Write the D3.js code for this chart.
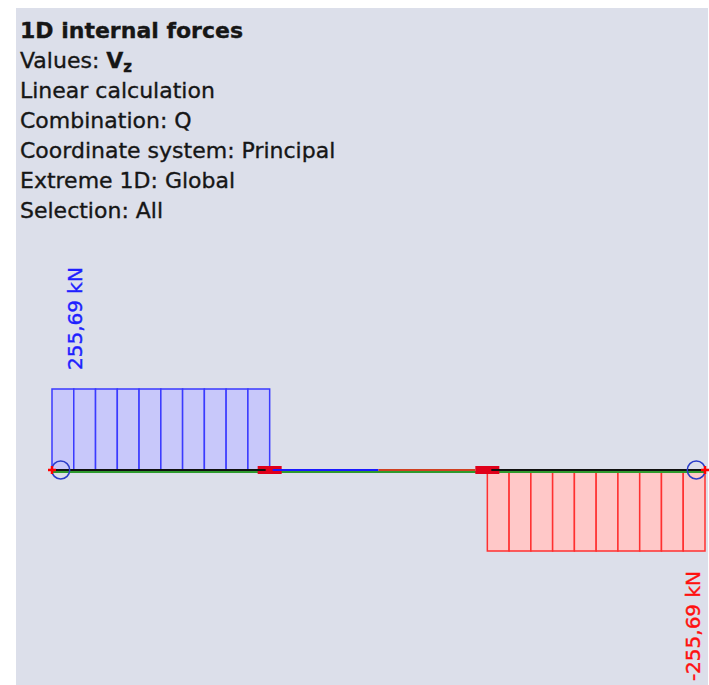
<!DOCTYPE html>
<html>
<head>
<meta charset="utf-8">
<script src="https://cdn.jsdelivr.net/npm/d3@7"></script>
<style>
  html, body { margin: 0; padding: 0; background: #ffffff; }
  svg { display: block; }
</style>
</head>
<body>
<div id="chart"></div>
<script>
// ---- data ----
const infoLines = [
  "Linear calculation",
  "Combination: Q",
  "Coordinate system: Principal",
  "Extreme 1D: Global",
  "Selection: All"
];
const titleText = "1D internal forces";
const valuesLabel = "Values: ";
const valuesSymbol = "V";
const valuesSubscript = "z";

// stations along the member [m]
const stations = [0.0, 0.2, 0.4, 0.6, 0.8, 1.0, 1.2, 1.4, 1.6, 1.8, 2.0,
                  2.2, 2.4, 2.6, 2.8, 3.0, 3.2, 3.4, 3.6, 3.8, 4.0,
                  4.2, 4.4, 4.6, 4.8, 5.0, 5.2, 5.4, 5.6, 5.8, 6.0];
// shear force Vz per segment [kN]
const vz = [255.69, 255.69, 255.69, 255.69, 255.69, 255.69, 255.69, 255.69, 255.69, 255.69,
            0, 0, 0, 0, 0, 0, 0, 0, 0, 0,
            -255.69, -255.69, -255.69, -255.69, -255.69, -255.69, -255.69, -255.69, -255.69, -255.69];
const signChangeAt = 3.0;
const supports = [0.08, 5.92];
const internalNodes = [2.0, 4.0];
const memberEnds = [0.0, 6.0];
const maxLabel = "255,69 kN";
const minLabel = "-255,69 kN";

// ---- drawing ----
const W = 709, H = 685;
const svg = d3.select("#chart").append("svg").attr("width", W).attr("height", H);

svg.append("rect").attr("x", 16).attr("y", 8).attr("width", 692).attr("height", H - 8)
  .attr("fill", "#dcdfea");

const x = d3.scaleLinear().domain([0, 6]).range([52, 705]);
const vmax = d3.max(vz, d => Math.abs(d));
const y = d3.scaleLinear().domain([-vmax, vmax]).range([551, 389]);
const y0 = y(0);

const font = "'DejaVu Sans', Verdana, sans-serif";
const txt = svg.append("g").attr("font-family", font).attr("fill", "#161616")
  .attr("stroke", "#161616").attr("stroke-width", 0.35);
txt.append("text").attr("x", 20).attr("y", 38).attr("font-size", 22).attr("font-weight", "bold").text(titleText);
const vt = txt.append("text").attr("x", 20).attr("y", 68).attr("font-size", 22);
vt.append("tspan").text(valuesLabel);
vt.append("tspan").attr("font-weight", "bold").text(valuesSymbol);
vt.append("tspan").attr("font-weight", "bold").attr("font-size", 15).attr("dy", 4).text(valuesSubscript);
txt.selectAll("text.info").data(infoLines).enter().append("text")
  .attr("class", "info")
  .attr("x", 20).attr("y", (d, i) => 98 + i * 30)
  .attr("font-size", 22).text(d => d);

// segments
const segs = vz.map((v, i) => ({ x0: stations[i], x1: stations[i + 1], v }));
const pos = segs.filter(s => s.v > 0);
const neg = segs.filter(s => s.v < 0);

const gp = svg.append("g");
gp.selectAll("rect").data(pos).enter().append("rect")
  .attr("x", d => x(d.x0)).attr("width", d => x(d.x1) - x(d.x0))
  .attr("y", d => y(d.v)).attr("height", d => y0 - y(d.v))
  .attr("fill", "#c8c8fa").attr("stroke", "#3a3aff").attr("stroke-width", 1.5);

const gn = svg.append("g");
gn.selectAll("rect").data(neg).enter().append("rect")
  .attr("x", d => x(d.x0)).attr("width", d => x(d.x1) - x(d.x0))
  .attr("y", y0).attr("height", d => y(d.v) - y0)
  .attr("fill", "#ffc8c8").attr("stroke", "#ff3030").attr("stroke-width", 1.5);

// member axis (green, underneath)
svg.append("line").attr("x1", x(0)).attr("x2", x(6)).attr("y1", y0 + 2).attr("y2", y0 + 2)
  .attr("stroke", "#2e9a2e").attr("stroke-width", 2);

// node markers (red rectangles)
svg.selectAll("rect.node").data(internalNodes).enter().append("rect")
  .attr("class", "node")
  .attr("x", d => x(d) - 12).attr("y", y0 - 4).attr("width", 24).attr("height", 8)
  .attr("fill", "#e0001a");

const zeroSegs = segs.filter(s => s.v === 0);
const blackParts = [[stations[0], d3.min(zeroSegs, s => s.x0)], [d3.max(zeroSegs, s => s.x1), stations[stations.length - 1]]];
svg.append("line").attr("x1", x(blackParts[0][0])).attr("x2", x(blackParts[0][1]) - 4)
  .attr("y1", y0).attr("y2", y0).attr("stroke", "#101010").attr("stroke-width", 2);
svg.append("line").attr("x1", x(blackParts[1][0]) + 4).attr("x2", x(blackParts[1][1]))
  .attr("y1", y0).attr("y2", y0).attr("stroke", "#101010").attr("stroke-width", 2);
// zero-valued diagram line
svg.append("line").attr("x1", x(d3.min(zeroSegs, s => s.x0)) + 3).attr("x2", x(signChangeAt))
  .attr("y1", y0).attr("y2", y0).attr("stroke", "#1a1aff").attr("stroke-width", 2);
svg.append("line").attr("x1", x(signChangeAt)).attr("x2", x(d3.max(zeroSegs, s => s.x1)) - 12)
  .attr("y1", y0).attr("y2", y0).attr("stroke", "#d04020").attr("stroke-width", 2);

// supports
svg.selectAll("circle.sup").data(supports).enter().append("circle")
  .attr("class", "sup")
  .attr("cx", d => x(d)).attr("cy", y0).attr("r", 9)
  .attr("fill", "none").attr("stroke", "#2a3cc8").attr("stroke-width", 1.5);

// member end crosses
const cross = svg.selectAll("g.end").data(memberEnds).enter().append("g")
  .attr("transform", d => `translate(${x(d)},${y0})`);
cross.append("line").attr("x1", -4).attr("x2", 4).attr("stroke", "#ff0000").attr("stroke-width", 2.5);
cross.append("line").attr("y1", -4).attr("y2", 4).attr("stroke", "#ff0000").attr("stroke-width", 2.5);

// extreme labels
svg.append("text").attr("font-family", font).attr("font-size", 20).attr("fill", "#1f1fff")
  .attr("stroke", "#1f1fff").attr("stroke-width", 0.4)
  .attr("transform", `translate(${x(stations[0]) + 30},${y(vmax) - 19}) rotate(-90)`)
  .attr("text-anchor", "start").text(maxLabel);
svg.append("text").attr("font-family", font).attr("font-size", 20).attr("fill", "#ff1010")
  .attr("stroke", "#ff1010").attr("stroke-width", 0.4)
  .attr("transform", `translate(${x(stations[stations.length - 1]) - 5},${y(-vmax) + 20}) rotate(-90)`)
  .attr("text-anchor", "end").text(minLabel);
</script>
</body>
</html>
